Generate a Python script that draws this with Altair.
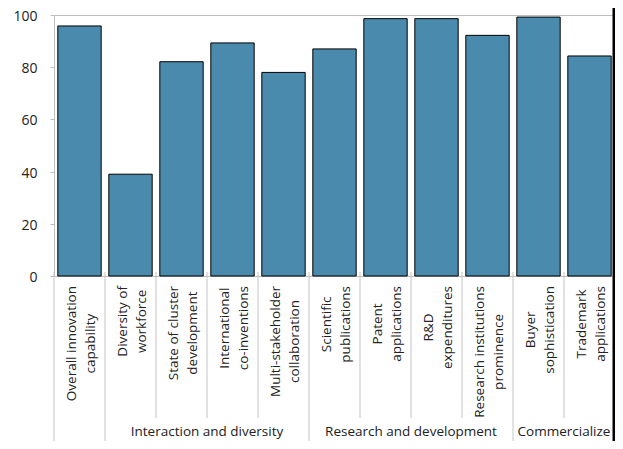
import altair as alt
import pandas as pd

# ---- data ----
labels = ["Overall innovation|capability", "Diversity of|workforce", "State of cluster|development",
          "International|co-inventions", "Multi-stakeholder|collaboration", "Scientific|publications",
          "Patent|applications", "R&D|expenditures", "Research institutions|prominence",
          "Buyer|sophistication", "Trademark|applications"]
values = [95.8, 39.0, 82.1, 89.3, 78.0, 87.0, 98.6, 98.6, 92.2, 99.2, 84.3]
group_names = ["", "Interaction and diversity", "Research and development", "Commercialize"]
group_sizes = [1, 4, 4, 2]
y_ticks = [0, 20, 40, 60, 80, 100]

# ---- layout / style ----
W, H = 561, 261
FONT = "Open Sans"
TXT = "#222222"
GRID = "#c4c4c4"
LBL_SIZE = 13.5
n = len(labels)

# approximate Open Sans advance widths (units per 2048 em) to top-align rotated label blocks
ADV = {" ": 532, "a": 1139, "b": 1255, "c": 975, "d": 1255, "e": 1149, "f": 694, "g": 1122,
       "h": 1257, "i": 518, "k": 1075, "l": 518, "m": 1905, "n": 1257, "o": 1237, "p": 1255,
       "r": 836, "s": 977, "t": 723, "u": 1257, "v": 1026, "w": 1593, "x": 1073, "y": 1028,
       "-": 659, "&": 1479, "B": 1300, "D": 1479, "I": 608, "M": 1849, "O": 1593, "P": 1212,
       "R": 1290, "S": 1120, "T": 1141}


def text_w(s, size):
    return sum(ADV.get(c, 1150) for c in s) / 2048 * size


bars_df = pd.DataFrame({"label": labels, "value": values})

parts = [l.split("|") for l in labels]
lab_df = pd.DataFrame({
    "line1": [p[0] for p in parts],
    "line2": [p[1] if len(p) > 1 else "" for p in parts],
    "xc": [i + 0.5 for i in range(n)],
    "yc": [H + 10 + max(text_w(s, LBL_SIZE) for s in p) / 2 for p in parts],
})

# boundaries between categories / groups
group_bounds = [0]
for s in group_sizes:
    group_bounds.append(group_bounds[-1] + s)
sep_df = pd.DataFrame({
    "pos": list(range(n + 1)),
    "y1": [H - 4] * (n + 1),
    "y2": [H + 175 if i in group_bounds else H + 142 for i in range(n + 1)],
})
grp_df = pd.DataFrame({
    "name": group_names,
    "mid": [(group_bounds[i] + group_bounds[i + 1]) / 2 for i in range(len(group_names))],
})
grp_df = grp_df[grp_df["name"] != ""]

qx = alt.Scale(domain=[0, n], nice=False, zero=False)

bars = alt.Chart(bars_df).mark_bar(fill="#4a8aac", stroke="#000000", strokeWidth=1).encode(
    x=alt.X("label:N", sort=labels, axis=None,
            scale=alt.Scale(domain=labels, paddingInner=0.15, paddingOuter=0.075)),
    y=alt.Y("value:Q", scale=alt.Scale(domain=[0, 100], nice=False),
            axis=alt.Axis(values=y_ticks, title=None, domain=False, grid=False,
                          ticks=True, tickSize=4, tickColor="#bdbdbd",
                          labelFont=FONT, labelFontSize=14, labelColor=TXT,
                          labelPadding=13, labelOffset=1.5)),
)

seps = alt.Chart(sep_df).mark_rule(color=GRID, strokeWidth=1).encode(
    x=alt.X("pos:Q", scale=qx, axis=None),
    y=alt.Y("y1:Q", scale=None),
    y2="y2:Q",
)


def line_layer(field, dy):
    return alt.Chart(lab_df).mark_text(angle=270, align="center", baseline="middle",
                                       font=FONT, fontSize=LBL_SIZE, color=TXT, dy=dy).encode(
        x=alt.X("xc:Q", scale=qx, axis=None),
        y=alt.Y("yc:Q", scale=None),
        text=f"{field}:N",
    )


txt1 = line_layer("line1", -8)
txt2 = line_layer("line2", 11.5)

grp_text = alt.Chart(grp_df).mark_text(align="center", baseline="middle", font=FONT,
                                       fontSize=13.5, color=TXT).encode(
    x=alt.X("mid:Q", scale=qx, axis=None),
    y=alt.value(H + 156),
    text="name:N",
)

edge = alt.Chart(pd.DataFrame({"k": [0]})).mark_rule(color="#000000", strokeWidth=3).encode(
    x=alt.value(W - 1), y=alt.value(-8), y2=alt.value(H + 200)
)

chart = alt.layer(bars, seps, txt1, txt2, grp_text, edge).resolve_scale(
    x="independent"
).properties(
    width=W, height=H,
    autosize=alt.AutoSizeParams(type="none"),
    padding={"left": 46, "top": 7, "right": 0, "bottom": 165},
).configure_view(stroke="#bdbdbd", strokeWidth=1)

chart.save("out.html", embed_options={"renderer": "svg", "actions": False})
